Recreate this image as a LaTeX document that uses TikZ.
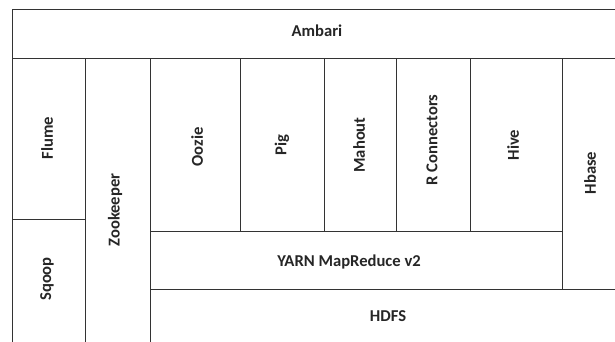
\documentclass[tikz,border=0pt]{standalone}
\usepackage{fontspec}
\setmainfont{Carlito}
\begin{document}
\begin{tikzpicture}[x=1pt,y=-1pt,
  boxline/.style={draw=black!80,line width=0.9pt},
  lbl/.style={font=\fontsize{16.6}{19}\selectfont\bfseries,text=black!85,inner sep=0pt},
  vlbl/.style={lbl,rotate=90}]
\useasboundingbox[fill=white] (0,0) rectangle (615,342);
\clip (0,0) rectangle (615,342);
% boxes
\draw[boxline] (12,9) rectangle (625,58);
\draw[boxline] (12,58) rectangle (85,219);
\draw[boxline] (12,219) rectangle (85,350);
\draw[boxline] (85,58) rectangle (150,350);
\draw[boxline] (150,58) rectangle (240,231);
\draw[boxline] (240,58) rectangle (324,231);
\draw[boxline] (324,58) rectangle (396,231);
\draw[boxline] (396,58) rectangle (470,231);
\draw[boxline] (470,58) rectangle (562,231);
\draw[boxline] (562,58) rectangle (625,289);
\draw[boxline] (150,231) rectangle (562,289);
\draw[boxline] (150,289) rectangle (625,350);
% labels
\node[lbl] (ambari) at (317,31) {Ambari};
\node[vlbl] (flume) at (47,138) {Flume};
\node[vlbl] (sqoop) at (47,279) {Sqoop};
\node[vlbl] (zoo) at (115,210) {Zookeeper};
\node[vlbl] (oozie) at (197,147) {Oozie};
\node[vlbl] (pig) at (282,145) {Pig};
\node[vlbl] (mahout) at (359,145) {Mahout};
\node[vlbl] (rconn) at (432,140) {R Connectors};
\node[vlbl] (hive) at (513,145) {Hive};
\node[vlbl] (hbase) at (590,173) {Hbase};
\node[lbl] (yarn) at (349,262) {YARN MapReduce v2};
\node[lbl] (hdfs) at (388,316) {HDFS};
\end{tikzpicture}
\end{document}
